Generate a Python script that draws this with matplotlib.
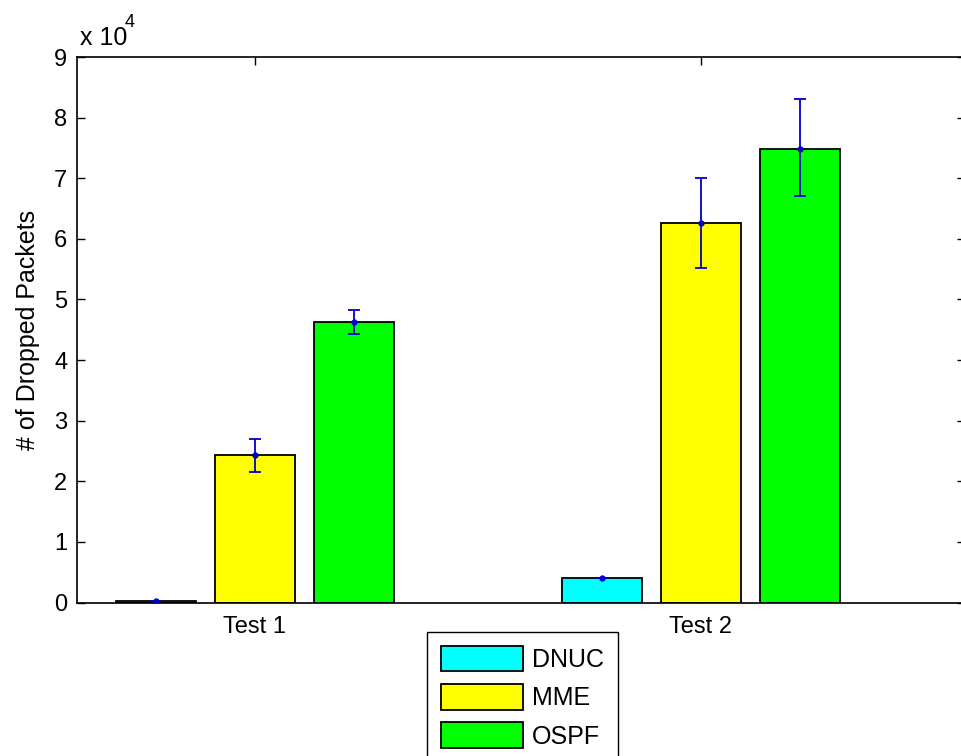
import numpy as np
import matplotlib.pyplot as plt
from matplotlib.patches import Patch

# ================== DATA ==================

tests = ['Test 1', 'Test 2']
methods = ['DNUC', 'MME', 'OSPF']
colors = ['#00FFFF', '#FFFF00', '#00FF00']

# mean number of dropped packets per test, per method
dnuc = [200, 4000]
mme = [24300, 62600]
ospf = [46300, 74900]

# error bar extents (lower, upper)
dnuc_lo = [200, 4000]
dnuc_hi = [200, 4000]
mme_lo = [21500, 55200]
mme_hi = [27000, 70100]
ospf_lo = [44300, 67100]
ospf_hi = [48300, 83100]

# ================== PLOT ==================

plt.rcParams['font.family'] = ['Liberation Sans', 'DejaVu Sans']

fig = plt.figure(figsize=(9.61, 7.56), dpi=100)
ax = fig.add_axes([77 / 961, 1 - 602.5 / 756, 888 / 961, 545.5 / 756])

x = np.arange(1, len(tests) + 1)
offset = 0.222
width = 0.18

means = [dnuc, mme, ospf]
lows = [dnuc_lo, mme_lo, ospf_lo]
highs = [dnuc_hi, mme_hi, ospf_hi]

for i, (name, col) in enumerate(zip(methods, colors)):
    pos = x + (i - 1) * offset
    m = np.array(means[i])
    err = [m - np.array(lows[i]), np.array(highs[i]) - m]
    ax.bar(pos, m, width, color=col, edgecolor='black', linewidth=1.3, zorder=2)
    ax.errorbar(pos, m, yerr=err, fmt='.', color='#0000CC', markersize=7,
                elinewidth=1.3, capsize=4, capthick=1.3, zorder=3)

ax.set_xlim(0.601, 2.592)
ax.set_ylim(0, 90000)
ax.set_yticks(np.arange(0, 90001, 10000))
ax.set_yticklabels([str(v) for v in range(10)])
ax.set_xticks(x)
ax.set_xticklabels(tests)

ax.tick_params(axis='both', direction='in', length=6, width=1,
               labelsize=17, top=True, right=True, pad=7)
ax.tick_params(axis='x', pad=10)
for s in ax.spines.values():
    s.set_linewidth(1.2)

ax.set_ylabel('# of Dropped Packets', fontsize=18, labelpad=10)

fig.text(80 / 961, 1 - 45 / 756, 'x 10', fontsize=18, va='baseline', ha='left')
fig.text(125 / 961, 1 - 27 / 756, '4', fontsize=13, va='baseline', ha='left')

handles = [Patch(facecolor=c, edgecolor='black', linewidth=1.3) for c in colors]
fig.legend(handles, methods, loc='upper left',
           bbox_to_anchor=(427 / 961, 1 - 632 / 756), borderaxespad=0,
           fontsize=18, fancybox=False, framealpha=1, edgecolor='black',
           handlelength=3.3, handleheight=1.2, handletextpad=0.35,
           labelspacing=0.48, borderpad=0.55)

fig.savefig('out.png', dpi=100)
